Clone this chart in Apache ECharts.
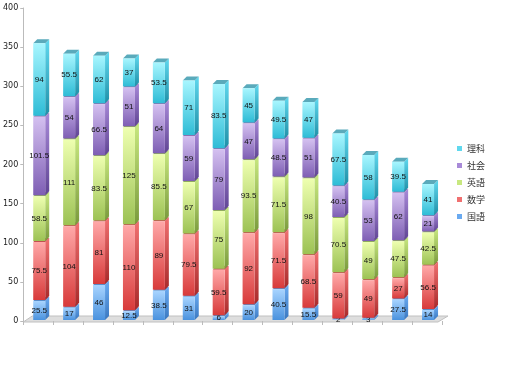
<!DOCTYPE html>
<html><head><meta charset="utf-8">
<script src="https://cdn.jsdelivr.net/npm/echarts@6/dist/echarts.min.js"></script>
<style>html,body{margin:0;padding:0;background:#fff}#c{width:515px;height:376px}</style>
</head><body><div id="c"></div>
<script>
const categories = ['1','2','3','4','5','6','7','8','9','10','11','12','13','14'];
const kokugo = [25.5,17,46,12.5,38.5,31,6,20,40.5,15.5,2,3,27.5,14];
const sugaku = [75.5,104,81,110,89,79.5,59.5,92,71.5,68.5,59,49,27,56.5];
const eigo   = [58.5,111,83.5,125,85.5,67,75,93.5,71.5,98,70.5,49,47.5,42.5];
const shakai = [101.5,54,66.5,51,64,59,79,47,48.5,51,40.5,53,62,21];
const rika   = [94,55.5,62,37,53.5,71,83.5,45,49.5,47,67.5,58,39.5,41];
const yTicks = [0,50,100,150,200,250,300,350,400];

const subjects = [
  {name:'国語', data:kokugo, light:'#a8d4ff', dark:'#4a92de', side:'#3a78c0', mid:'#6aaaf0', top:'#5a8cc8'},
  {name:'数学', data:sugaku, light:'#ffa8a8', dark:'#d83a3a', side:'#a82a2a', mid:'#f07070', top:'#c05050'},
  {name:'英語', data:eigo,   light:'#eeffb0', dark:'#9cc254', side:'#7a9a3c', mid:'#c8e880', top:'#90aa60'},
  {name:'社会', data:shakai, light:'#d4c0f0', dark:'#7e5eb4', side:'#604494', mid:'#a88ad8', top:'#8a72b0'},
  {name:'理科', data:rika,   light:'#a8f6ff', dark:'#2ebcd6', side:'#2090a8', mid:'#60d8ee', top:'#5aaabb'}
];

const chart = echarts.init(document.getElementById('c'));
const W = 12, D = 4;

function makeSeries(s, idx) {
  const data = s.data.map((v, i) => {
    let base = 0;
    for (let k = 0; k < idx; k++) base += subjects[k].data[i];
    return [i, base, v];
  });
  return {
    name: s.name,
    type: 'custom',
    itemStyle: {color: s.mid},
    data: data,
    encode: {x: 0, y: [1, 2]},
    renderItem: function (params, api) {
      const c = api.value(0), b = api.value(1), v = api.value(2);
      const p0 = api.coord([c, b]);
      const p1 = api.coord([c, b + v]);
      const x0 = p0[0] - W / 2 + 1;
      const yb = p0[1] - 1, yt = p1[1];
      const h = yb - yt;
      return {
        type: 'group',
        children: [
          {type: 'polygon', shape: {points: [[x0 + W, yb], [x0 + W + D, yb - D], [x0 + W + D, yt - D], [x0 + W, yt]]},
           style: {fill: new echarts.graphic.LinearGradient(0,0,0,1,[{offset:0,color:s.mid},{offset:1,color:s.side}])}},
          {type: 'polygon', shape: {points: [[x0, yt], [x0 + W, yt], [x0 + W + D, yt - D], [x0 + D, yt - D]]},
           style: {fill: s.top}},
          {type: 'rect', shape: {x: x0, y: yt, width: W, height: h},
           style: {fill: new echarts.graphic.LinearGradient(0,0,0,1,[{offset:0,color:s.light},{offset:1,color:s.dark}])}},
          {type: 'text', x: x0 + W / 2, y: (yt + yb) / 2,
           style: {text: String(v), fill: '#111', fontSize: 8, fontFamily: 'Liberation Sans, DejaVu Sans', align: 'center', verticalAlign: 'middle'}}
        ]
      };
    }
  };
}

const series = subjects.map(makeSeries);

chart.setOption({
  animation: false,
  grid: {left: 22, right: 73, top: 8, bottom: 55},
  legend: {
    data: ['理科','社会','英語','数学','国語'],
    orient: 'vertical', left: 452, top: 139,
    icon: 'rect', itemWidth: 5, itemHeight: 5, itemGap: 8,
    textStyle: {fontSize: 9, color: '#333', fontFamily: 'Noto Sans CJK JP'}
  },
  xAxis: {
    type: 'category', data: categories, boundaryGap: true,
    axisLabel: {show: false},
    axisLine: {show: false},
    axisTick: {show: true, length: 4, lineStyle: {color: '#bbb'}}
  },
  yAxis: {
    type: 'value', min: 0, max: 400, interval: 50,
    axisLabel: {fontSize: 8, color: '#222', margin: 5, fontFamily: 'DejaVu Sans',
      formatter: v => yTicks.includes(v) ? String(v) : ''},
    axisLine: {show: true, lineStyle: {color: '#bbb'}},
    axisTick: {show: true, length: 3, lineStyle: {color: '#bbb'}},
    splitLine: {show: false}
  },
  series: series
});

const c0 = chart.convertToPixel({xAxisIndex: 0}, 0);
const c1 = chart.convertToPixel({xAxisIndex: 0}, 1);
const cN = chart.convertToPixel({xAxisIndex: 0}, categories.length - 1);
const half = (c1 - c0) / 2;
const a = c0 - half, b2 = cN + half;
const y0 = chart.convertToPixel({yAxisIndex: 0}, 0);
chart.setOption({
  graphic: [{
    type: 'polygon', z: -1, silent: true,
    shape: {points: [[a, y0 + 1], [b2 - 4, y0 + 1], [b2 + 6, y0 - 5], [a + 9, y0 - 5]]},
    style: {fill: '#dedede', stroke: '#c0c0c0', lineWidth: 1}
  }]
});
</script>
</body></html>
